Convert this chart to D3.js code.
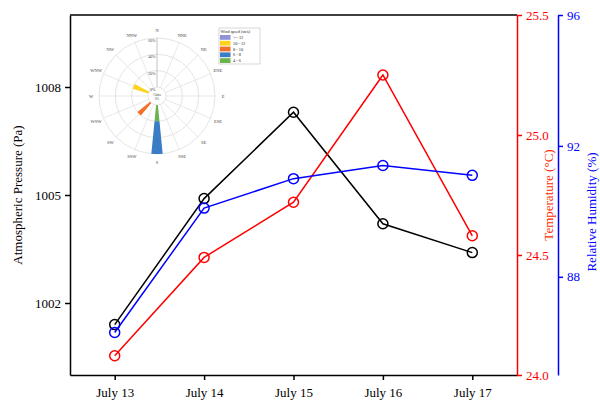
<!DOCTYPE html>
<html>
<head>
<meta charset="utf-8">
<script src="https://cdn.jsdelivr.net/npm/d3@7"></script>
<style>
    body { margin: 0; background: #fff; }
    svg { display: block; }
    text { font-family: "Liberation Serif", "Times New Roman", serif; }
</style>
</head>
<body>
<svg id="chart" width="600" height="401"></svg>
<script>
// Chart values
var days = ['July 13', 'July 14', 'July 15', 'July 16', 'July 17'];
var pressure = [1001.4, 1004.9, 1007.3, 1004.2, 1003.4];
var temperature = [24.08, 24.49, 24.72, 25.25, 24.58];
var humidity = [86.3, 90.1, 91.0, 91.4, 91.1];

var pressureTicks = [1002, 1005, 1008];
var temperatureTicks = [24.0, 24.5, 25.0, 25.5];
var humidityTicks = [88, 92, 96];

// Wind rose inset
var compass = ['N', 'NNE', 'NE', 'ENE', 'E', 'ESE', 'SE', 'SSE',
               'S', 'SSW', 'SW', 'WSW', 'W', 'WNW', 'NW', 'NNW'];
var speedBins = ['>= 12', '10 - 12', '8 - 10', '6 - 8', '4 - 6'];
var windDir = ['S', 'S', 'SW', 'WNW'];
var windBin = ['4 - 6', '6 - 8', '8 - 10', '10 - 12'];
var windPct = [20, 40, 20, 20];
var pctTicks = [0, 20, 40, 60];

var PLOT = { left: 70, right: 517, top: 15, bottom: 375 },
    HUMIDITY_AXIS_X = 558,
    MARKER_R = 5,
    LINE_W = 1.5;

var svg = d3.select('#chart');

var x = d3.scalePoint().domain(days).range([PLOT.left, PLOT.right]).padding(0.5);
var yP = d3.scaleLinear().domain([1000, 1010]).range([PLOT.bottom, PLOT.top]);
var yT = d3.scaleLinear().domain([24.0, 25.5]).range([PLOT.bottom, PLOT.top]);
var yH = d3.scaleLinear().domain([85, 96]).range([PLOT.bottom, PLOT.top]);

function styleAxis(g, color) {
    g.selectAll('path.domain').attr('stroke', color).attr('stroke-width', LINE_W);
    g.selectAll('.tick line').attr('stroke', color).attr('stroke-width', LINE_W);
    g.selectAll('.tick text')
        .attr('fill', color)
        .attr('font-size', 13)
        .attr('font-family', '"Liberation Serif", serif');
}

// top frame line
svg.append('line')
    .attr('x1', PLOT.left).attr('x2', PLOT.right)
    .attr('y1', PLOT.top).attr('y2', PLOT.top)
    .attr('stroke', '#000').attr('stroke-width', LINE_W);

// bottom axis
svg.append('g')
    .attr('transform', 'translate(0,' + PLOT.bottom + ')')
    .call(d3.axisBottom(x).tickSize(5).tickSizeOuter(0).tickPadding(8))
    .call(function(g) { styleAxis(g, '#000'); });

// left axis
svg.append('g')
    .attr('transform', 'translate(' + PLOT.left + ',0)')
    .call(d3.axisLeft(yP).tickValues(pressureTicks).tickFormat(d3.format('d'))
        .tickSize(5).tickSizeOuter(0).tickPadding(4))
    .call(function(g) { styleAxis(g, '#000'); });

// temperature axis
svg.append('g')
    .attr('transform', 'translate(' + PLOT.right + ',0)')
    .call(d3.axisRight(yT).tickValues(temperatureTicks).tickFormat(d3.format('.1f'))
        .tickSize(5).tickSizeOuter(0).tickPadding(4))
    .call(function(g) { styleAxis(g, '#ff0000'); });

// humidity axis
svg.append('g')
    .attr('transform', 'translate(' + HUMIDITY_AXIS_X + ',0)')
    .call(d3.axisRight(yH).tickValues(humidityTicks).tickFormat(d3.format('d'))
        .tickSize(5).tickSizeOuter(0).tickPadding(4))
    .call(function(g) { styleAxis(g, '#0000ff'); });

// axis titles
function axisTitle(tx, ty, label, color) {
    svg.append('text')
        .attr('transform', 'translate(' + tx + ',' + ty + ') rotate(-90)')
        .attr('text-anchor', 'middle')
        .attr('font-size', 13)
        .attr('fill', color)
        .text(label);
}
axisTitle(22, 195, 'Atmospheric Pressure (Pa)', '#000');
axisTitle(553, 195, 'Temperature (\u00B0C)', '#ff2a00');
axisTitle(596, 212, 'Relative Humidity (%)', '#0000ff');

// series
function drawSeries(values, yScale, color) {
    var pts = days.map(function(d, i) { return [x(d), yScale(values[i])]; });
    svg.append('path')
        .attr('d', d3.line()(pts))
        .attr('fill', 'none')
        .attr('stroke', color)
        .attr('stroke-width', LINE_W);
    svg.append('g').selectAll('circle')
        .data(pts)
        .enter()
        .append('circle')
        .attr('cx', function(p) { return p[0]; })
        .attr('cy', function(p) { return p[1]; })
        .attr('r', MARKER_R)
        .attr('fill', 'none')
        .attr('stroke', color)
        .attr('stroke-width', LINE_W);
}
drawSeries(pressure, yP, '#000');
drawSeries(temperature, yT, '#ff0000');
drawSeries(humidity, yH, '#0000ff');

// ---- wind rose inset ----
var ROSE = { cx: 157, cy: 96, hole: 9, outer: 58, labelR: 66 };
var binColors = {
    '>= 12': '#9191d6',
    '10 - 12': '#ffd21c',
    '8 - 10': '#f2702a',
    '6 - 8': '#3b7dc4',
    '4 - 6': '#6cb34f'
};
var rr = d3.scaleLinear().domain([0, 60]).range([ROSE.hole, ROSE.outer]);
var step = 2 * Math.PI / compass.length;
var rose = svg.append('g').attr('transform', 'translate(' + ROSE.cx + ',' + ROSE.cy + ')');

rose.selectAll('circle.grid')
    .data(pctTicks)
    .enter()
    .append('circle')
    .attr('r', function(d) { return rr(d); })
    .attr('fill', 'none')
    .attr('stroke', '#d9d9d9')
    .attr('stroke-width', 0.7);

rose.selectAll('line.spoke')
    .data(compass)
    .enter()
    .append('line')
    .attr('x1', function(d, i) { return ROSE.hole * Math.sin(i * step); })
    .attr('y1', function(d, i) { return -ROSE.hole * Math.cos(i * step); })
    .attr('x2', function(d, i) { return ROSE.outer * Math.sin(i * step); })
    .attr('y2', function(d, i) { return -ROSE.outer * Math.cos(i * step); })
    .attr('stroke', function(d, i) { return i === 0 ? '#aaa' : '#dedede'; })
    .attr('stroke-width', 0.7);

rose.selectAll('text.dir')
    .data(compass)
    .enter()
    .append('text')
    .attr('x', function(d, i) { return ROSE.labelR * Math.sin(i * step); })
    .attr('y', function(d, i) { return -ROSE.labelR * Math.cos(i * step) + 1.5; })
    .attr('text-anchor', 'middle')
    .attr('font-size', 4.5)
    .attr('fill', '#444')
    .text(function(d) { return d; });

rose.selectAll('text.pct')
    .data(pctTicks)
    .enter()
    .append('text')
    .attr('x', -1.5)
    .attr('y', function(d) { return -rr(d) + 4; })
    .attr('text-anchor', 'end')
    .attr('font-size', 4)
    .attr('fill', '#444')
    .text(function(d) { return d + '%'; });

// stack the bins outward per direction, low speed inside
var arc = d3.arc();
var stacked = {};
var bars = windDir.map(function(dir, i) {
    var base = stacked[dir] || 0;
    stacked[dir] = base + windPct[i];
    var a = compass.indexOf(dir) * step;
    return {
        innerRadius: rr(base),
        outerRadius: rr(base + windPct[i]),
        startAngle: a - step / 4,
        endAngle: a + step / 4,
        color: binColors[windBin[i]]
    };
});
rose.selectAll('path.bar')
    .data(bars)
    .enter()
    .append('path')
    .attr('d', function(d) { return arc(d); })
    .attr('fill', function(d) { return d.color; });

rose.append('text')
    .attr('y', 0).attr('text-anchor', 'middle')
    .attr('font-size', 3).attr('fill', '#444')
    .text('Calms');
rose.append('text')
    .attr('y', 4).attr('text-anchor', 'middle')
    .attr('font-size', 3).attr('fill', '#444')
    .text('0%');

// legend
var legend = svg.append('g').attr('transform', 'translate(219,28)');
legend.append('rect')
    .attr('width', 41).attr('height', 36)
    .attr('fill', '#fff').attr('stroke', '#bbb').attr('stroke-width', 0.6);
legend.append('text')
    .attr('x', 1.5).attr('y', 5)
    .attr('font-size', 4.2).attr('fill', '#222')
    .text('Wind speed (m/s)');
var rows = legend.selectAll('g.row')
    .data(speedBins)
    .enter()
    .append('g')
    .attr('transform', function(d, i) { return 'translate(1,' + (7 + i * 5.8) + ')'; });
rows.append('rect')
    .attr('width', 10.5).attr('height', 4.8)
    .attr('fill', function(d) { return binColors[d]; });
rows.append('text')
    .attr('x', 13).attr('y', 3.9)
    .attr('font-size', 4.3).attr('fill', '#222')
    .text(function(d) { return d; });
</script>
</body>
</html>
